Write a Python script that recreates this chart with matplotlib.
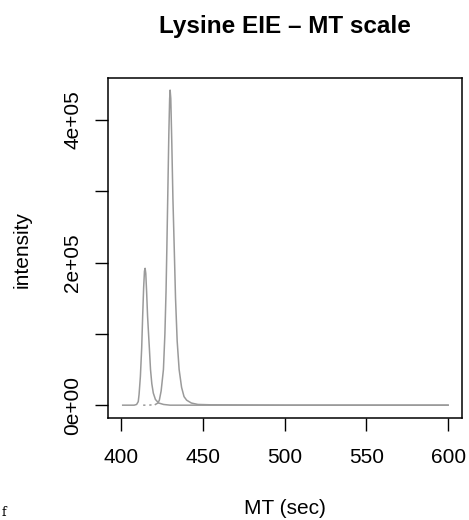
import matplotlib
matplotlib.use("Agg")
import numpy as np
import matplotlib.pyplot as plt

plt.rcParams['font.family'] = ['Liberation Sans', 'DejaVu Sans']

# trace 1: small peak (~415 s)
mt1 = [401, 408, 409.5, 410.5, 411, 411.8, 412.6, 413.2, 413.8, 414.3, 414.7,
       415.1, 415.6, 416.2, 416.9, 417.3, 418, 418.8, 419.7, 421, 423, 426,
       430, 450, 500, 550, 600]
int1 = [0, 0, 1000, 5000, 15000, 40000, 80000, 125000, 165000, 188000, 192000,
        185000, 160000, 125000, 96000, 80000, 50000, 30000, 17000, 8000, 3000, 1000,
        0, 0, 0, 0, 0]

# trace 2: large peak (~430 s); first part of baseline is gappy
mt2 = [413.5, 417, 421, 422.5, 423.4, 424.5, 425.9, 426.8, 427.5, 428.0, 428.6,
       429.2, 429.7, 430.0, 430.4, 431.0, 431.7, 432.5, 433.3, 434.3, 435.5,
       437, 438.5, 440.1, 443, 447, 455, 500, 550, 600]
int2 = [0, 0, 1000, 3000, 7000, 20000, 50000, 100000, 160000, 221000, 300000,
        380000, 430000, 442000, 430000, 370000, 290000, 221000, 150000, 90000, 50000,
        25000, 12000, 7000, 3000, 1000, 500, 0, 0, 0]
gap_end = 2  # points of trace 2 drawn dotted

fig = plt.figure(figsize=(4.69, 5.2), dpi=100)
ax = fig.add_axes([108/469, 1 - 418/520, (462-108)/469, (418-78)/520])

ax.plot(mt1, int1, color='#9a9a9a', lw=1.1)
ax.plot(mt2[:gap_end + 1], int2[:gap_end + 1], color='#9a9a9a', lw=1.1, linestyle=(0, (1.5, 2.5)))
ax.plot(mt2[gap_end:], int2[gap_end:], color='#9a9a9a', lw=1.1)

ax.set_xlim(392, 608.5)
ax.set_ylim(-18000, 459000)
ax.set_xticks([400, 450, 500, 550, 600])
ax.set_yticks([0, 100000, 200000, 300000, 400000])
ax.set_yticklabels(['0e+00', '', '2e+05', '', '4e+05'], rotation=90, va='center')
ax.tick_params(direction='out', length=9.4, width=1.0, labelsize=15, color='black')
ax.tick_params(axis='x', pad=12)
ax.tick_params(axis='y', pad=9)
for s in ax.spines.values():
    s.set_linewidth(1.1)

fig.text(285/469, 1 - 33/520, 'Lysine EIE \u2013 MT scale', ha='center', va='baseline',
         fontsize=17.5, fontweight='bold')
fig.text(285/469, 1 - 508/520, 'MT (sec)', ha='center', va='center', fontsize=15)
fig.text(22/469, 1 - 249/520, 'intensity', ha='center', va='center', fontsize=15, rotation=90)
fig.text(2/469, 1 - 516/520, 'f', ha='left', va='baseline', fontsize=9, family='DejaVu Serif')

fig.savefig('out.png', dpi=100)
